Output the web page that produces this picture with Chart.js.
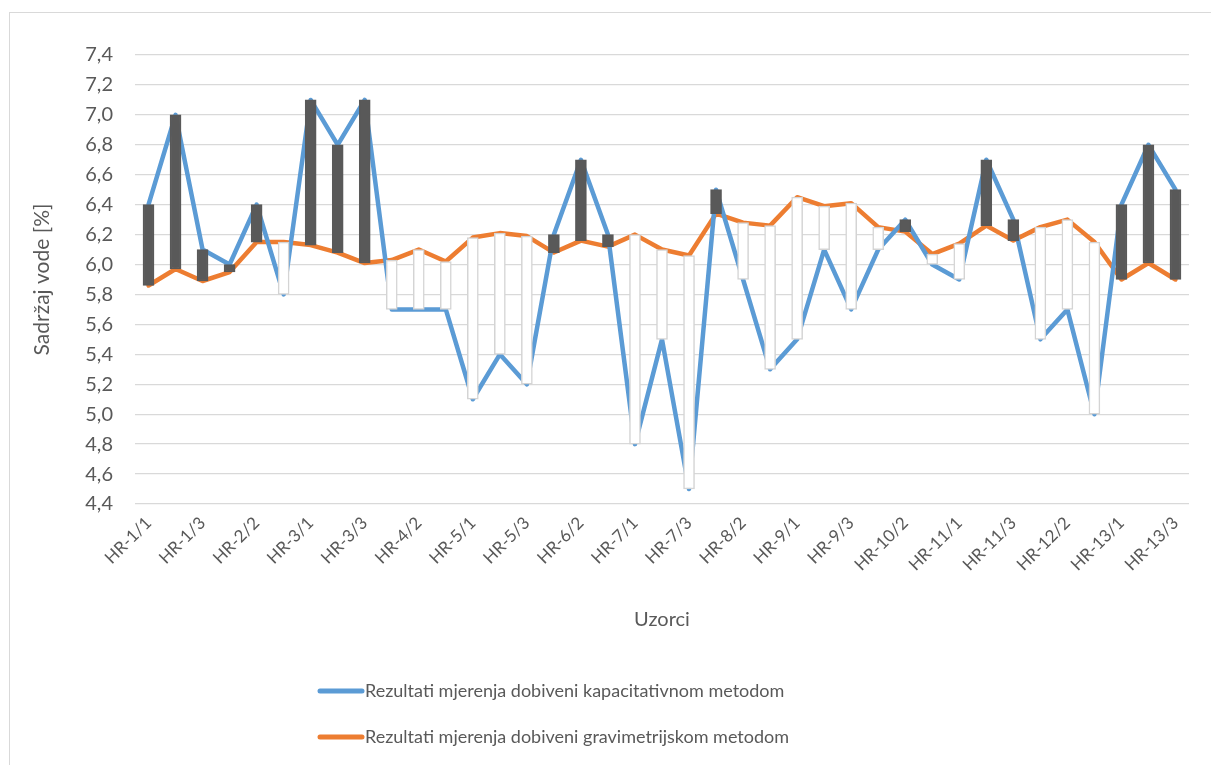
<!DOCTYPE html>
<html>
<head>
<meta charset="utf-8">
<title>Sadržaj vode</title>
<script src="https://cdn.jsdelivr.net/npm/chart.js@4/dist/chart.umd.min.js"></script>
<style>
    html, body { margin: 0; padding: 0; background: #ffffff; }
    canvas { display: block; }
</style>
</head>
<body>
<canvas id="chart" width="1211" height="765"></canvas>
<script>
var samples = [
    "HR-1/1", "HR-1/2", "HR-1/3", "HR-2/1", "HR-2/2", "HR-2/3",
    "HR-3/1", "HR-3/2", "HR-3/3", "HR-4/1", "HR-4/2", "HR-4/3",
    "HR-5/1", "HR-5/2", "HR-5/3", "HR-6/1", "HR-6/2", "HR-6/3",
    "HR-7/1", "HR-7/2", "HR-7/3", "HR-8/1", "HR-8/2", "HR-8/3",
    "HR-9/1", "HR-9/2", "HR-9/3", "HR-10/1", "HR-10/2", "HR-10/3",
    "HR-11/1", "HR-11/2", "HR-11/3", "HR-12/1", "HR-12/2", "HR-12/3",
    "HR-13/1", "HR-13/2", "HR-13/3"
];
// capacitive method
var kapacitativno = [
    6.4, 7.0, 6.1, 6.0, 6.4, 5.8,
    7.1, 6.8, 7.1, 5.7, 5.7, 5.7,
    5.1, 5.4, 5.2, 6.2, 6.7, 6.2,
    4.8, 5.5, 4.5, 6.5, 5.9, 5.3,
    5.5, 6.1, 5.7, 6.1, 6.3, 6.0,
    5.9, 6.7, 6.3, 5.5, 5.7, 5.0,
    6.4, 6.8, 6.5
];
// gravimetric method
var gravimetrijski = [
    5.86, 5.97, 5.89, 5.95, 6.15, 6.15,
    6.13, 6.08, 6.01, 6.03, 6.10, 6.02,
    6.18, 6.21, 6.19, 6.08, 6.16, 6.12,
    6.20, 6.10, 6.06, 6.34, 6.28, 6.26,
    6.45, 6.39, 6.41, 6.25, 6.22, 6.07,
    6.14, 6.26, 6.16, 6.25, 6.30, 6.15,
    5.90, 6.01, 5.90
];
var yTicks = { min: 4.4, max: 7.4, step: 0.2 };
var seriesNames = [
    "Rezultati mjerenja dobiveni kapacitativnom metodom",
    "Rezultati mjerenja dobiveni gravimetrijskom metodom"
];

var blue = "#5b9bd5";
var orange = "#ed7d31";
var dark = "#595959";
var grey = "#595959";

// up/down bars between the two series
var upDown = samples.map(function (s, i) {
    return [gravimetrijski[i], kapacitativno[i]];
});
var barFill = upDown.map(function (d) {
    return d[1] >= d[0] ? dark : "#ffffff";
});
var barBorder = upDown.map(function (d) {
    return d[1] >= d[0] ? dark : "#d4d4d4";
});

var frameAndLegend = {
    id: "frameAndLegend",
    afterDraw: function (chart) {
        var ctx = chart.ctx;
        ctx.save();
        ctx.strokeStyle = "#d9d9d9";
        ctx.lineWidth = 1;
        ctx.strokeRect(9.5, 12.5, 1300, 900);

        var colors = [blue, orange];
        var rows = [691, 737];
        ctx.font = "18px Lato";
        ctx.textBaseline = "middle";
        ctx.textAlign = "left";
        for (var i = 0; i < seriesNames.length; i++) {
            ctx.strokeStyle = colors[i];
            ctx.lineWidth = 5;
            ctx.lineCap = "round";
            ctx.beginPath();
            ctx.moveTo(320, rows[i]);
            ctx.lineTo(362, rows[i]);
            ctx.stroke();
            ctx.fillStyle = grey;
            ctx.fillText(seriesNames[i], 365, rows[i]);
        }
        ctx.restore();
    }
};

var ctx = document.getElementById("chart");
var chart = new Chart(ctx, {
    data: {
        labels: samples,
        datasets: [
            {
                type: "bar",
                label: "updown",
                data: upDown,
                backgroundColor: barFill,
                borderColor: barBorder,
                borderWidth: 1.5,
                borderSkipped: false,
                barThickness: 11,
                order: 0
            },
            {
                type: "line",
                label: seriesNames[0],
                data: kapacitativno,
                borderColor: blue,
                backgroundColor: blue,
                borderWidth: 4.5,
                borderJoinStyle: "round",
                borderCapStyle: "round",
                pointRadius: 0,
                tension: 0,
                order: 1
            },
            {
                type: "line",
                label: seriesNames[1],
                data: gravimetrijski,
                borderColor: orange,
                backgroundColor: orange,
                borderWidth: 4.5,
                borderJoinStyle: "round",
                borderCapStyle: "round",
                pointRadius: 0,
                tension: 0,
                order: 2
            }
        ]
    },
    options: {
        responsive: false,
        animation: false,
        layout: { padding: { top: 55, right: 22, bottom: 121, left: 0 } },
        plugins: {
            legend: { display: false },
            tooltip: { enabled: false }
        },
        scales: {
            x: {
                grid: { display: false, drawTicks: false },
                border: { display: false },
                ticks: {
                    autoSkip: false,
                    maxRotation: 45,
                    minRotation: 45,
                    padding: 9,
                    color: grey,
                    font: { family: "Lato", size: 17 },
                    callback: function (v, i) {
                        return i % 2 === 0 ? samples[i] : "";
                    }
                },
                title: {
                    display: true,
                    text: "Uzorci",
                    color: grey,
                    padding: 12,
                    font: { family: "Lato", size: 20 }
                },
                afterFit: function (s) { s.height = 140; }
            },
            y: {
                min: yTicks.min,
                max: yTicks.max,
                grid: { color: "#d9d9d9", lineWidth: 1.3, drawTicks: false },
                border: { display: false },
                ticks: {
                    stepSize: yTicks.step,
                    padding: 22,
                    color: grey,
                    font: { family: "Lato", size: 20 },
                    callback: function (v) {
                        return v.toFixed(1).replace(".", ",");
                    }
                },
                title: {
                    display: true,
                    text: "Sadržaj vode [%]",
                    color: grey,
                    padding: 30,
                    font: { family: "Lato", size: 21 }
                },
                afterFit: function (s) { s.width = 135; }
            }
        }
    },
    plugins: [frameAndLegend]
});
</script>
</body>
</html>
